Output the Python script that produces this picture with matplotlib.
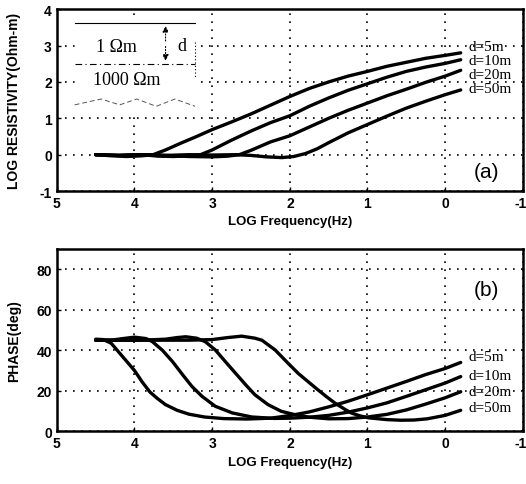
import matplotlib
matplotlib.use('Agg')
import matplotlib.pyplot as plt
import matplotlib.transforms as mtransforms

plt.rcParams['axes.unicode_minus'] = False

# log apparent resistivity
res_x_5 = [4.5, 4.3, 4.1, 3.9, 3.76, 3.6, 3.4, 3.2, 3.0, 2.75, 2.5, 2.25, 2.0, 1.75, 1.5, 1.25, 1.0, 0.75, 0.5, 0.25, 0.0, -0.2]
res_y_5 = [0.0, -0.03, -0.05, -0.03, 0.0, 0.13, 0.32, 0.5, 0.69, 0.9, 1.12, 1.36, 1.6, 1.82, 2.0, 2.16, 2.29, 2.43, 2.54, 2.65, 2.73, 2.8]
res_x_10 = [4.5, 4.2, 3.9, 3.7, 3.5, 3.3, 3.15, 3.0, 2.75, 2.5, 2.25, 2.0, 1.75, 1.5, 1.25, 1.0, 0.75, 0.5, 0.25, 0.0, -0.2]
res_y_10 = [0.0, -0.02, 0.0, -0.04, -0.05, -0.03, 0.0, 0.13, 0.4, 0.65, 0.88, 1.07, 1.33, 1.56, 1.77, 1.95, 2.13, 2.29, 2.41, 2.51, 2.61]
res_x_20 = [4.5, 4.2, 3.9, 3.6, 3.3, 3.0, 2.8, 2.65, 2.5, 2.25, 2.0, 1.75, 1.5, 1.25, 1.0, 0.75, 0.5, 0.25, 0.0, -0.2]
res_y_20 = [0.0, -0.02, 0.0, -0.02, -0.05, -0.06, -0.04, 0.0, 0.12, 0.35, 0.52, 0.76, 1.0, 1.22, 1.42, 1.62, 1.8, 1.99, 2.16, 2.32]
res_x_50 = [4.5, 4.2, 3.9, 3.6, 3.3, 3.0, 2.7, 2.5, 2.3, 2.1, 1.95, 1.8, 1.65, 1.5, 1.25, 1.0, 0.75, 0.5, 0.25, 0.0, -0.2]
res_y_50 = [0.0, -0.02, 0.0, -0.02, 0.0, -0.01, 0.0, -0.02, -0.06, -0.08, -0.05, 0.03, 0.16, 0.33, 0.6, 0.83, 1.06, 1.28, 1.47, 1.65, 1.78]

# phase in degrees
ph_x_5 = [4.5, 4.4, 4.3, 4.2, 4.1, 4.0, 3.9, 3.8, 3.7, 3.6, 3.45, 3.3, 3.1, 2.85, 2.55, 2.25, 2.0, 1.75, 1.5, 1.25, 1.0, 0.75, 0.5, 0.25, 0.0, -0.2]
ph_y_5 = [45.5, 45.3, 43.5, 39, 34.5, 30, 24.3, 19.3, 16, 13.1, 10.3, 8.4, 7, 6.2, 6.0, 6.4, 7.7, 9.5, 12, 14.8, 18, 21.3, 24.6, 28, 31, 34]
ph_x_10 = [4.5, 4.3, 4.15, 4.0, 3.85, 3.77, 3.64, 3.51, 3.38, 3.26, 3.13, 2.96, 2.74, 2.49, 2.2, 2.0, 1.75, 1.5, 1.25, 1.0, 0.75, 0.5, 0.25, 0.0, -0.2]
ph_y_10 = [45, 45, 45.8, 46.5, 45.8, 44.3, 40, 34.4, 27.9, 22.1, 17.2, 12.3, 9, 7, 6.3, 6.4, 6.9, 7.8, 9.4, 11.5, 14, 17.2, 20.5, 23.8, 27]
ph_x_20 = [4.5, 4.2, 3.9, 3.6, 3.45, 3.34, 3.2, 3.09, 2.96, 2.83, 2.70, 2.57, 2.45, 2.28, 2.11, 1.94, 1.75, 1.5, 1.25, 1.0, 0.75, 0.5, 0.25, 0.0, -0.2]
ph_y_20 = [45, 45, 45, 45.5, 46.3, 46.7, 46, 44.3, 40.2, 34.4, 28.7, 23, 18, 13.1, 9.8, 8.2, 6.9, 6.1, 6.2, 7, 8.3, 10.5, 13.4, 16.5, 19.5]
ph_x_50 = [4.5, 4.2, 3.9, 3.6, 3.3, 3.0, 2.8, 2.62, 2.45, 2.36, 2.19, 2.02, 1.89, 1.75, 1.64, 1.52, 1.42, 1.3, 1.21, 1.1, 0.99, 0.75, 0.57, 0.4, 0.23, 0.0, -0.2]
ph_y_50 = [45, 45, 45, 45, 45, 45.3, 46.3, 47, 46, 45, 40.2, 33.5, 28.5, 24, 20.5, 16.8, 13.9, 11, 9, 7.6, 6.6, 5.7, 5.4, 5.5, 6.1, 7.8, 10.3]

labels = ['d=5m', 'd=10m', 'd=20m', 'd=50m']
res_label_y = [2.98, 2.58, 2.2, 1.83]
ph_label_y = [37, 27.5, 19.8, 11.6]

sans = 'Liberation Sans'
serif = 'Liberation Serif'
grid_style = dict(color='black', linewidth=1.2, linestyle=(0, (1, 3.8)))

fig = plt.figure(figsize=(5.26, 4.85), dpi=100)
ax1 = fig.add_axes([0.108, 0.604, 0.886, 0.375])
ax2 = fig.add_axes([0.108, 0.109, 0.886, 0.375])


def style_axes(ax, ylim, yticks, ylabel):
    ax.set_xlim(5, -1)
    ax.set_ylim(*ylim)
    ax.set_xticks(range(5, -2, -1))
    ax.set_yticks(yticks)
    ax.grid(True, **grid_style)
    for s in ax.spines.values():
        s.set_linewidth(1.8)
    ax.tick_params(direction='in', length=3, width=1, labelsize=10)
    for t in ax.get_xticklabels() + ax.get_yticklabels():
        t.set_fontfamily(sans)
        t.set_fontweight('bold')
    # last label sits at the right edge of the figure
    last = ax.get_xticklabels()[-1]
    last.set_horizontalalignment('right')
    last.set_transform(last.get_transform() + mtransforms.ScaledTranslation(3 / 72, 0, fig.dpi_scale_trans))
    ax.set_xlabel('LOG Frequency(Hz)', fontfamily=sans, fontweight='bold', fontsize=9.5)
    ax.set_ylabel(ylabel, fontfamily=sans, fontweight='bold', fontsize=10)
    ax.yaxis.set_label_coords(-0.077, 0.5)


style_axes(ax1, (-1, 4), range(-1, 5), 'LOG RESISTIVITY(Ohm-m)')
style_axes(ax2, (0, 90), [0, 20, 40, 60, 80], 'PHASE(deg)')

for xs, ys in [(res_x_5, res_y_5), (res_x_10, res_y_10), (res_x_20, res_y_20), (res_x_50, res_y_50)]:
    ax1.plot(xs, ys, color='black', linewidth=2.4, solid_capstyle='round', solid_joinstyle='round')
for xs, ys in [(ph_x_5, ph_y_5), (ph_x_10, ph_y_10), (ph_x_20, ph_y_20), (ph_x_50, ph_y_50)]:
    ax2.plot(xs, ys, color='black', linewidth=2.4, solid_capstyle='round', solid_joinstyle='round')

for lab, y in zip(labels, res_label_y):
    ax1.text(-0.3, y, lab, fontfamily=serif, fontsize=11, va='center', ha='left')
for lab, y in zip(labels, ph_label_y):
    ax2.text(-0.3, y, lab, fontfamily=serif, fontsize=11, va='center', ha='left')

ax1.text(-0.53, -0.46, '(a)', fontfamily=sans, fontsize=15, ha='center', va='center')
ax2.text(-0.53, 70, '(b)', fontfamily=sans, fontsize=15, ha='center', va='center')

# layer sketch in the corner of panel (a)
ax1.fill_between([4.77, 3.22], 1.2, 3.75, color='white', zorder=2.5)
ax1.plot([4.77, 3.22], [3.62, 3.62], color='black', linewidth=0.8, zorder=3)
ax1.plot([4.77, 3.22], [2.5, 2.5], color='black', linewidth=0.8, linestyle=(0, (6, 3, 1, 3)), zorder=3)
ax1.plot([4.77, 4.43, 4.19, 3.97, 3.72, 3.48, 3.22], [1.37, 1.53, 1.37, 1.53, 1.33, 1.53, 1.33],
         color='#555555', linewidth=0.7, linestyle=(0, (5, 3)), zorder=3)
ax1.plot([3.22, 3.22], [3.1, 2.1], color='black', linewidth=0.8, linestyle=(0, (1, 2)), zorder=3)
ax1.annotate('', xy=(3.6, 3.62), xytext=(3.6, 3.05),
             arrowprops=dict(arrowstyle='-|>', color='black', lw=0.8, linestyle=':', mutation_scale=9), zorder=3)
ax1.annotate('', xy=(3.6, 2.5), xytext=(3.6, 3.05),
             arrowprops=dict(arrowstyle='-|>', color='black', lw=0.8, linestyle=':', mutation_scale=9), zorder=3)
ax1.text(4.23, 2.98, '1 \u03a9m', fontfamily=serif, fontsize=13, ha='center', va='center', zorder=4)
ax1.text(4.1, 2.06, '1000 \u03a9m', fontfamily=serif, fontsize=13, ha='center', va='center', zorder=4)
ax1.text(3.39, 3.0, 'd', fontfamily=serif, fontsize=13, ha='center', va='center', zorder=4)

fig.savefig('out.png', dpi=100)
